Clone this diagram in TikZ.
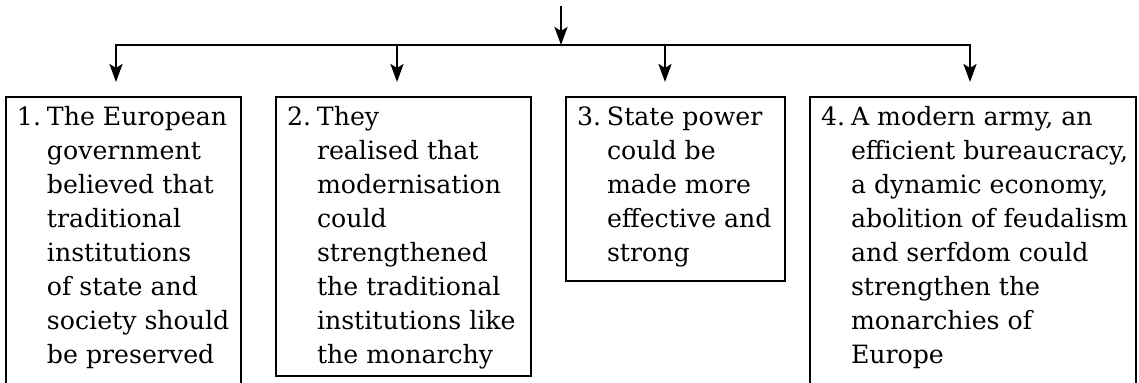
\documentclass[tikz,border=0pt]{standalone}
\usepackage{fontspec}
\setmainfont{DejaVu Serif}
\usetikzlibrary{arrows.meta}

\tikzset{
  pointbox/.style={draw, line width=1.3pt, anchor=north west, inner sep=0pt, outer sep=0pt,
    font=\fontsize{12.6pt}{17pt}\selectfont},
  flow/.style={line width=1.3pt, -{Stealth[length=9pt,width=6.5pt,inset=2pt]}},
}
% width, height, number, lines
\newcommand{\pointtext}[4]{\parbox[t][#2][t]{#1}{\hspace*{5.5pt}\rule{0pt}{14pt}%
  \begin{tabular}[t]{@{}l@{}l@{}}\makebox[15pt][l]{#3}&#4\end{tabular}}}

\begin{document}
\begin{tikzpicture}[x=0.5pt, y=-0.5pt]
\clip (0,0) rectangle (1139,382);
% boxes
\node [pointbox] (b1) at (6,97) {\pointtext{117.5pt}{150pt}{1.}{The European\\
  &government\\ &believed that\\ &traditional\\ &institutions\\
  &of state and\\ &society should\\ &be preserved}};
\node [pointbox] (b2) at (276,97) {\pointtext{127.5pt}{139.5pt}{2.}{They\\
  &realised that\\ &modernisation\\ &could\\ &strengthened\\
  &the traditional\\ &institutions like\\ &the monarchy}};
\node [pointbox] (b3) at (566,97) {\pointtext{109.5pt}{92pt}{3.}{State power\\
  &could be\\ &made more\\ &effective and\\ &strong}};
\node [pointbox] (b4) at (810,97) {\pointtext{163pt}{150pt}{4.}{A modern army, an\\
  &efficient bureaucracy,\\ &a dynamic economy,\\ &abolition of feudalism\\
  &and serfdom could\\ &strengthen the\\ &monarchies of\\ &Europe}};
% branch points
\coordinate (in) at (561,6);
\coordinate (split) at (561,45);
\coordinate (s1) at (116,45);
\coordinate (s2) at (397,45);
\coordinate (s3) at (665,45);
\coordinate (s4) at (970,45);
\coordinate (e1) at (116,82);
\coordinate (e2) at (397,82);
\coordinate (e3) at (665,82);
\coordinate (e4) at (970,82);
% connectors
\draw [flow] (in) -- (split);
\draw [line width=1.3pt, line cap=rect] (s1) -- (s4);
\draw [flow] (s1) -- (e1);
\draw [flow] (s2) -- (e2);
\draw [flow] (s3) -- (e3);
\draw [flow] (s4) -- (e4);
\end{tikzpicture}
\end{document}
